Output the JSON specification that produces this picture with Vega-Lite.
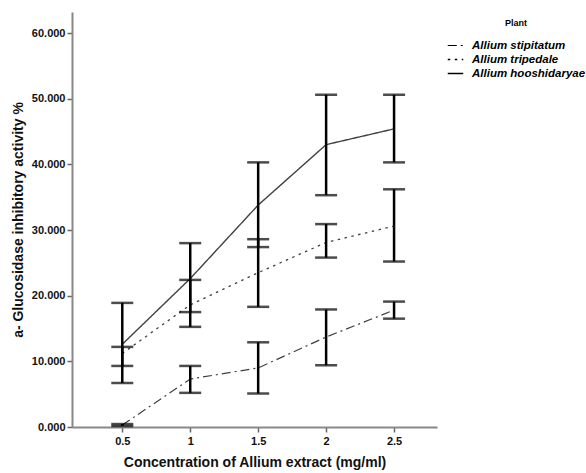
{
  "$schema": "https://vega.github.io/schema/vega-lite/v6.json",
  "width": 365,
  "height": 415,
  "autosize": "none",
  "padding": {"left": 72, "top": 12, "right": 149, "bottom": 46},
  "background": "white",
  "config": {
    "view": {"stroke": null},
    "font": "Liberation Sans",
    "axis": {
      "domainColor": "#888888",
      "domainWidth": 2,
      "tickColor": "#666666",
      "tickWidth": 1.5,
      "tickSize": 5,
      "labelFont": "Liberation Sans",
      "labelFontWeight": "bold",
      "labelColor": "#111111",
      "titleFont": "Liberation Sans",
      "titleFontWeight": "bold",
      "titleColor": "#111111",
      "titleFontSize": 14,
      "grid": false
    }
  },
  "data": {
    "values": [
      {"conc": 0.5, "plant": "Allium stipitatum", "mean": 0.3, "low": 0.15, "high": 0.45},
      {"conc": 1, "plant": "Allium stipitatum", "mean": 7.3, "low": 5.2, "high": 9.3},
      {"conc": 1.5, "plant": "Allium stipitatum", "mean": 9.0, "low": 5.1, "high": 12.9},
      {"conc": 2, "plant": "Allium stipitatum", "mean": 13.7, "low": 9.4, "high": 17.9},
      {"conc": 2.5, "plant": "Allium stipitatum", "mean": 17.8, "low": 16.5, "high": 19.1},
      {"conc": 0.5, "plant": "Allium tripedale", "mean": 11.2, "low": 9.3, "high": 12.2},
      {"conc": 1, "plant": "Allium tripedale", "mean": 18.6, "low": 15.25, "high": 22.4},
      {"conc": 1.5, "plant": "Allium tripedale", "mean": 23.5, "low": 18.3, "high": 28.6},
      {"conc": 2, "plant": "Allium tripedale", "mean": 28.1, "low": 25.8, "high": 30.9},
      {"conc": 2.5, "plant": "Allium tripedale", "mean": 30.6, "low": 25.2, "high": 36.2},
      {"conc": 0.5, "plant": "Allium hooshidaryae", "mean": 12.6, "low": 6.7, "high": 18.9},
      {"conc": 1, "plant": "Allium hooshidaryae", "mean": 22.6, "low": 17.5, "high": 28.0},
      {"conc": 1.5, "plant": "Allium hooshidaryae", "mean": 33.8, "low": 27.4, "high": 40.3},
      {"conc": 2, "plant": "Allium hooshidaryae", "mean": 43.0, "low": 35.3, "high": 50.6},
      {"conc": 2.5, "plant": "Allium hooshidaryae", "mean": 45.4, "low": 40.3, "high": 50.6}
    ]
  },
  "layer": [
    {
      "mark": {"type": "line", "color": "#000000"},
      "encoding": {
        "x": {
          "field": "conc", "type": "quantitative",
          "scale": {"domain": [0.13, 2.816], "nice": false, "zero": false},
          "axis": {"values": [0.5, 1, 1.5, 2, 2.5], "format": "~g", "labelFontSize": 11, "labelPadding": 3, "title": "Concentration of Allium extract (mg/ml)", "titlePadding": 9}
        },
        "y": {
          "field": "mean", "type": "quantitative",
          "scale": {"domain": [0, 63.2], "nice": false},
          "axis": {"values": [0, 10, 20, 30, 40, 50, 60], "format": ".3f", "labelFontSize": 11, "labelPadding": 2, "title": "a- Glucosidase inhibitory activity %", "titlePadding": 6}
        },
        "strokeOpacity": {
          "field": "plant", "type": "nominal",
          "scale": {"domain": ["Allium stipitatum", "Allium tripedale", "Allium hooshidaryae"], "range": [0.75, 0.75, 1]},
          "legend": null
        },
        "strokeDash": {
          "field": "plant", "type": "nominal",
          "scale": {"domain": ["Allium stipitatum", "Allium tripedale", "Allium hooshidaryae"], "range": [[9, 4, 2, 4], [2.5, 4.5], [1, 0]]},
          "legend": {
            "title": "Plant",
            "orient": "none",
            "legendX": 375,
            "legendY": 7,
            "titleFontSize": 9,
            "titleFontWeight": "bold",
            "titleAnchor": "middle",
            "titlePadding": 9,
            "labelFontSize": 11.5,
            "labelFontStyle": "italic",
            "labelFontWeight": "bold",
            "labelColor": "#000000",
            "symbolType": "stroke",
            "symbolSize": 240,
            "symbolStrokeColor": "#000000",
            "symbolStrokeWidth": 2.5,
            "symbolOpacity": 1,
            "rowPadding": 0,
            "labelOffset": 8
          }
        },
        "strokeWidth": {
          "field": "plant", "type": "nominal",
          "scale": {"domain": ["Allium stipitatum", "Allium tripedale", "Allium hooshidaryae"], "range": [1.2, 1.4, 2.5]},
          "legend": null
        }
      }
    },
    {
      "mark": {"type": "rule", "color": "#000000", "strokeWidth": 2.5},
      "encoding": {
        "x": {"field": "conc", "type": "quantitative"},
        "y": {"field": "low", "type": "quantitative"},
        "y2": {"field": "high"}
      }
    },
    {
      "mark": {"type": "tick", "color": "#000000", "size": 22, "thickness": 2.5, "orient": "horizontal"},
      "encoding": {
        "x": {"field": "conc", "type": "quantitative"},
        "y": {"field": "low", "type": "quantitative"}
      }
    },
    {
      "mark": {"type": "tick", "color": "#000000", "size": 22, "thickness": 2.5, "orient": "horizontal"},
      "encoding": {
        "x": {"field": "conc", "type": "quantitative"},
        "y": {"field": "high", "type": "quantitative"}
      }
    }
  ]
}
